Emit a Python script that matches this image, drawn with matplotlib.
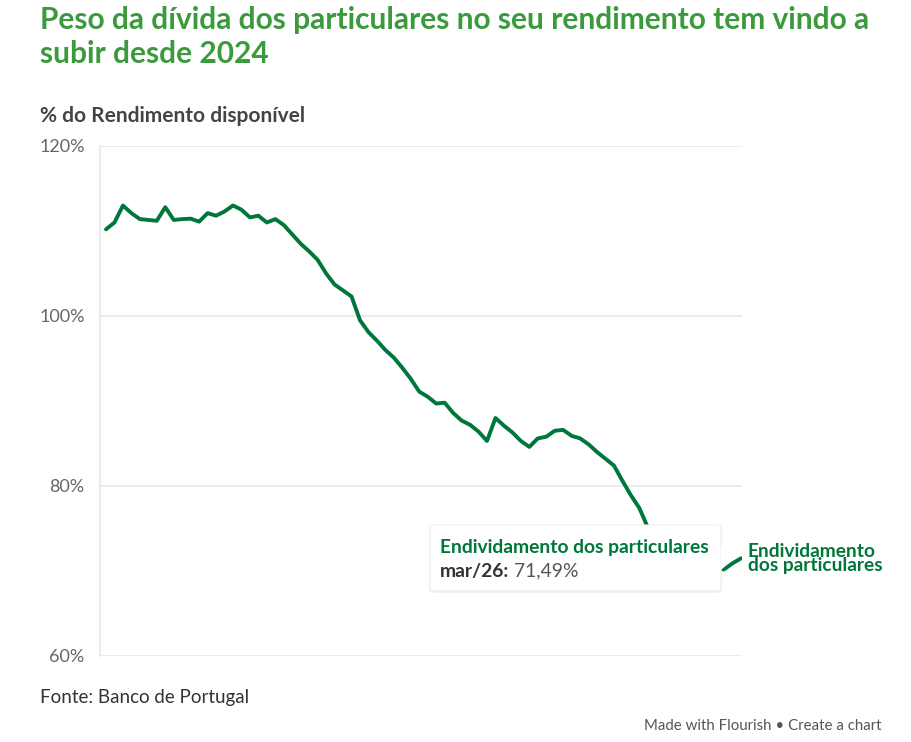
import numpy as np
import matplotlib.pyplot as plt
from matplotlib.patches import FancyBboxPatch, Polygon

# quarterly series, jun/07 .. mar/26 (% of disposable income)
quarters = np.arange(76)
debt_ratio = [
    110.2, 111.0, 113.0, 112.1, 111.4, 111.3, 111.2, 112.8, 111.3, 111.4,
    111.45, 111.1, 112.1, 111.8, 112.3, 113.0, 112.5, 111.6, 111.8, 111.0,
    111.4, 110.7, 109.6, 108.5, 107.6, 106.6, 105.0, 103.7, 103.0, 102.3,
    99.5, 98.1, 97.1, 96.0, 95.1, 93.9, 92.6, 91.1, 90.5, 89.7,
    89.8, 88.6, 87.7, 87.2, 86.4, 85.3, 88.0, 87.1, 86.3, 85.3,
    84.6, 85.6, 85.8, 86.5, 86.6, 85.9, 85.6, 84.9, 84.0, 83.2,
    82.4, 80.6, 78.9, 77.4, 75.1, 73.8, 72.9, 72.2, 71.6, 71.2,
    70.8, 70.5, 70.3, 70.2, 70.9, 71.49,
]
yticks = [60, 80, 100, 120]
ytick_labels = ["60%", "80%", "100%", "120%"]

green_title = "#3a9a3c"
green_line = "#00773a"

plt.rcParams['font.family'] = ['Lato', 'DejaVu Sans']

fig = plt.figure(figsize=(9.12, 7.42), dpi=100)
ax = fig.add_axes([100 / 912, 86 / 742, 642 / 912, 510 / 742])

ax.plot(quarters, debt_ratio, color=green_line, linewidth=2.8,
        solid_joinstyle='round', solid_capstyle='round', zorder=3)

ax.set_xlim(-0.71, 75.12)
ax.set_ylim(60, 120)
ax.set_yticks(yticks)
ax.set_yticklabels(ytick_labels, fontsize=13, color="#666666")
ax.set_xticks([])
ax.tick_params(axis='y', length=0, pad=11)
ax.grid(axis='y', color="#e8e8e8", linewidth=1.2)
ax.set_axisbelow(True)
for side in ['top', 'right', 'bottom']:
    ax.spines[side].set_visible(False)
ax.spines['left'].set_color("#e8e8e8")
ax.spines['left'].set_linewidth(1.2)

# line label
ax.text(75.8, debt_ratio[-1], "Endividamento\ndos particulares", fontsize=13.8,
        fontweight='bold', color=green_line, va='center', ha='left',
        linespacing=0.8, clip_on=False)

# tooltip
W, H = 912, 742
x0, x1, y0, y1 = 430, 721, 525, 591
shadow = FancyBboxPatch(((x0 - 1) / W, 1 - (y1 + 2) / H), (x1 - x0 + 2) / W, (y1 - y0 + 2) / H,
                        boxstyle="round,pad=0,rounding_size=0.005",
                        transform=fig.transFigure, facecolor="#000000", alpha=0.05,
                        edgecolor='none', zorder=5)
box = FancyBboxPatch((x0 / W, 1 - y1 / H), (x1 - x0) / W, (y1 - y0) / H,
                     boxstyle="round,pad=0,rounding_size=0.004",
                     transform=fig.transFigure, facecolor="white",
                     edgecolor="#f0f0f0", linewidth=0.8, zorder=6)
tri = Polygon([(x1 / W, 1 - 546 / H), (734 / W, 1 - 558 / H), (x1 / W, 1 - 570 / H)],
              closed=True, transform=fig.transFigure, facecolor="white",
              edgecolor='none', zorder=6)
fig.patches.extend([shadow, box, tri])
fig.text(440 / W, 1 - 548 / H, "Endividamento dos particulares", fontsize=13.9,
         fontweight='bold', color=green_line, va='center', zorder=7)
fig.text(440 / W, 1 - 571 / H, "mar/26:", fontsize=13.9, fontweight='bold',
         color="#333333", va='center', zorder=7)
fig.text(514 / W, 1 - 571 / H, "71,49%", fontsize=13.9, color="#555555",
         va='center', zorder=7)

# titles and notes
fig.text(40 / W, 1 - 20 / H, "Peso da dívida dos particulares no seu rendimento tem vindo a",
         fontsize=21.5, fontweight='bold', color=green_title, va='center')
fig.text(40 / W, 1 - 54 / H, "subir desde 2024", fontsize=21.5, fontweight='bold',
         color=green_title, va='center')
fig.text(40 / W, 1 - 116 / H, "% do Rendimento disponível", fontsize=15,
         fontweight='bold', color="#444444", va='center')
fig.text(40 / W, 1 - 697 / H, "Fonte: Banco de Portugal", fontsize=13.5,
         color="#333333", va='center')
fig.text(882 / W, 1 - 726 / H, "Made with Flourish • Create a chart", fontsize=10.8,
         color="#555555", va='center', ha='right')

fig.savefig("out.png", dpi=100)
plt.close(fig)
